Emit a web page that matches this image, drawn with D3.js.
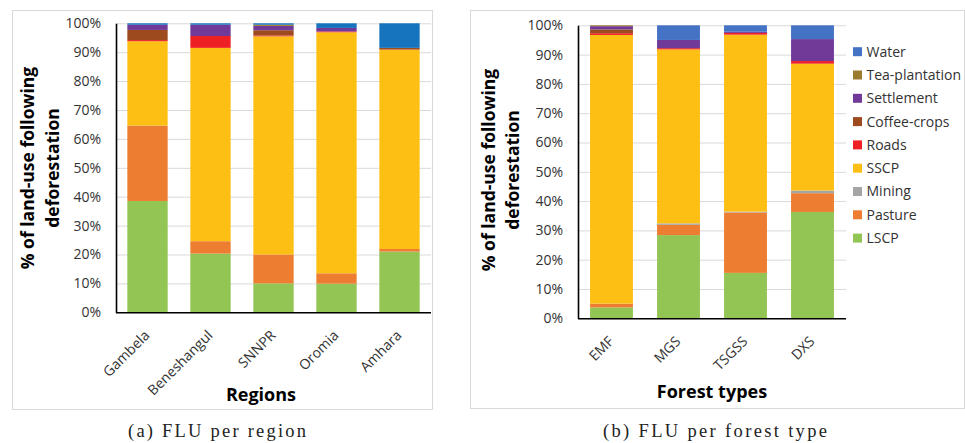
<!DOCTYPE html>
<html><head><meta charset="utf-8">
<script src="https://cdn.jsdelivr.net/npm/d3@7"></script>
<style>
body{margin:0;background:#fff;}
svg{display:block;}
text{font-family:"Open Sans",sans-serif;}
</style></head>
<body>
<svg id="chart" width="965" height="443"></svg>
<script>
const seriesNames = ["LSCP","Pasture","Mining","SSCP","Roads","Coffee-crops","Settlement","Tea-plantation","Water"];
const yTicks = [0,10,20,30,40,50,60,70,80,90,100];

const regions = ["Gambela","Beneshangul","SNNPR","Oromia","Amhara"];
const regionLSCP       = [38.5, 20.3, 10.0,  9.9, 21.0];
const regionPasture    = [26.1,  4.3, 10.0,  3.6,  0.9];
const regionMining     = [ 0.0,  0.0,  0.0,  0.0,  0.0];
const regionSSCP       = [29.2, 66.9, 75.5, 83.4, 69.0];
const regionRoads      = [ 0.4,  4.1,  0.3,  0.3,  0.0];
const regionCoffee     = [ 3.5,  0.0,  1.8,  0.0,  0.6];
const regionSettlement = [ 1.8,  3.9,  1.5,  1.2,  0.0];
const regionTea        = [ 0.0,  0.0,  0.4,  0.0,  0.0];
const regionWater      = [ 0.5,  0.5,  0.5,  1.6,  8.5];

const forests = ["EMF","MGS","TSGSS","DXS"];
const forestLSCP       = [ 3.7, 28.4, 15.5, 36.3];
const forestPasture    = [ 1.3,  3.5, 20.6,  6.4];
const forestMining     = [ 0.0,  0.5,  0.3,  0.9];
const forestSSCP       = [91.7, 59.4, 60.4, 43.3];
const forestRoads      = [ 0.6,  0.4,  0.6,  0.9];
const forestCoffee     = [ 1.3,  0.0,  0.0,  0.0];
const forestSettlement = [ 1.1,  2.8,  0.4,  7.5];
const forestTea        = [ 0.3,  0.0,  0.0,  0.0];
const forestWater      = [ 0.0,  5.0,  2.2,  4.7];

const colorsLeft  = ["#92c553","#ed7d31","#a5a5a5","#fdbf14","#ee2024","#9e4a1f","#713a99","#9c7a2e","#1673bd"];
const colorsRight = ["#92c553","#ed7d31","#a5a5a5","#fdbf14","#ee2024","#9e4a1f","#713a99","#9c7a2e","#4472c4"];

function buildRows(cats, arrays){
  return cats.map((c,i)=>{
    const r = {cat:c};
    seriesNames.forEach((s,j)=>{ r[s] = arrays[j][i]; });
    return r;
  });
}

const svg = d3.select("#chart");

function panel(opt){
  const g = svg.append("g");
  g.append("rect").attr("x",opt.box[0]+0.5).attr("y",opt.box[1]+0.5)
    .attr("width",opt.box[2]-opt.box[0]).attr("height",opt.box[3]-opt.box[1])
    .attr("fill","none").attr("stroke","#d9d9d9").attr("stroke-width",1);

  const x = d3.scaleBand().domain(opt.cats).range([opt.left,opt.right])
    .paddingInner(0.36).paddingOuter(0.18);
  const y = d3.scaleLinear().domain([0,100]).range([opt.bottom,opt.top]);

  // gridlines
  g.append("g").attr("transform",`translate(${opt.left},0)`)
    .call(d3.axisLeft(y).tickValues(yTicks).tickSize(-(opt.right-opt.left)).tickFormat(""))
    .call(s=>s.select(".domain").remove())
    .call(s=>s.selectAll("line").attr("stroke","#d9d9d9").attr("stroke-width",1));

  const rows = buildRows(opt.cats, opt.arrays);
  const stack = d3.stack().keys(seriesNames)(rows);
  g.append("g").selectAll("g").data(stack).join("g")
    .attr("fill",(d,i)=>opt.colors[i])
    .selectAll("rect").data(d=>d).join("rect")
    .attr("x",d=>x(d.data.cat)).attr("width",x.bandwidth())
    .attr("y",d=>y(d[1])).attr("height",d=>Math.max(0,y(d[0])-y(d[1])));

  // y axis
  const ya = g.append("g").attr("transform",`translate(${opt.left},0)`)
    .call(d3.axisLeft(y).tickValues(yTicks).tickSize(0).tickPadding(15).tickFormat(d=>d+"%"));
  ya.select(".domain").attr("stroke","#000").attr("stroke-width",1.6);
  ya.selectAll("text").attr("font-size","14px").attr("fill","#333").attr("font-family","Open Sans");

  // x axis
  const xa = g.append("g").attr("transform",`translate(0,${opt.bottom})`)
    .call(d3.axisBottom(x).tickSize(0).tickFormat(d=>d));
  xa.select(".domain").attr("d",`M${opt.left},0.5H${opt.right}`).attr("stroke","#000").attr("stroke-width",1.6);
  xa.selectAll(".tick text")
    .attr("font-size","14px").attr("fill","#333").attr("font-family","Open Sans")
    .attr("text-anchor","end").attr("y",0).attr("dy",0)
    .attr("transform","translate(3,24) rotate(-45)");

  // y title
  const yt = g.append("text").attr("font-weight","bold").attr("font-size","17.5px").attr("fill","#000")
    .attr("text-anchor","middle")
    .attr("transform",`translate(${opt.ytX},${opt.ytY}) rotate(-90)`);
  yt.append("tspan").attr("x",0).attr("y",0).attr("dy","0.35em").text("% of land-use following");
  yt.append("tspan").attr("x",0).attr("y",opt.ytGap).attr("dy","0.35em").text("deforestation");

  g.append("text").attr("x",opt.xtX).attr("y",opt.xtY).attr("text-anchor","middle")
    .attr("font-weight","bold").attr("font-size","18px").attr("fill","#000").text(opt.xTitle);

  g.append("text").attr("x",opt.capX).attr("y",437).attr("text-anchor","middle")
    .attr("font-size","18.5px").attr("fill","#222")
    .attr("textLength",opt.capLen).attr("lengthAdjust","spacing")
    .style("font-family","'Liberation Serif',serif")
    .text(opt.caption);
  return {x,y,g};
}

panel({
  box:[12,10,432,409], left:116, right:431, top:23.3, bottom:312.3,
  cats:regions,
  arrays:[regionLSCP,regionPasture,regionMining,regionSSCP,regionRoads,regionCoffee,regionSettlement,regionTea,regionWater],
  colors:colorsLeft, ytX:28, ytY:168, ytGap:25,
  xTitle:"Regions", xtX:261, xtY:401, capX:217, capLen:178, caption:"(a) FLU per region"
});

panel({
  box:[470,10,964,408], left:578, right:846, top:25.3, bottom:318.3,
  cats:forests,
  arrays:[forestLSCP,forestPasture,forestMining,forestSSCP,forestRoads,forestCoffee,forestSettlement,forestTea,forestWater],
  colors:colorsRight, ytX:489, ytY:170, ytGap:24,
  xTitle:"Forest types", xtX:712, xtY:398, capX:715, capLen:224, caption:"(b) FLU per forest type"
});

// legend (top to bottom: Water ... LSCP)
const legendItems = seriesNames.map((s,i)=>({name:s,color:colorsRight[i]})).reverse();
const lg = svg.append("g").selectAll("g").data(legendItems).join("g")
  .attr("transform",(d,i)=>`translate(853,${51.7 + i*23.3})`);
lg.append("rect").attr("x",0).attr("y",-4.5).attr("width",9).attr("height",9).attr("fill",d=>d.color);
lg.append("text").attr("x",13.5).attr("y",0).attr("dy","0.35em").attr("font-size","14px")
  .attr("fill","#333").text(d=>d.name);
</script>
</body></html>
